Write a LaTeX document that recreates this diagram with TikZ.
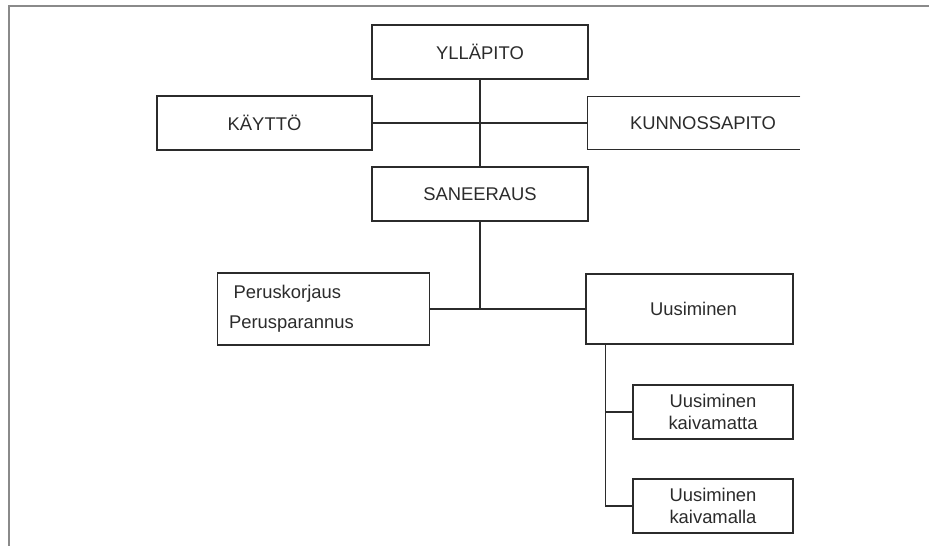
\documentclass[tikz,border=0pt]{standalone}
\usepackage{fontspec}
\setmainfont{Liberation Sans}
\definecolor{ink}{HTML}{2B2B2B}
\definecolor{frame}{HTML}{8A8A8A}
\begin{document}
\begin{tikzpicture}[x=0.75pt,y=-0.75pt,
  box/.style={draw=ink, line width=1.1pt, rectangle, inner sep=0pt, text=ink,
    font=\fontsize{13.8}{17}\selectfont, align=center},
  openbox/.style={rectangle, inner sep=0pt, text=ink,
    font=\fontsize{13.8}{17}\selectfont, align=center},
  conn/.style={draw=ink, line width=1pt},
  framel/.style={draw=frame, line width=1.6pt}]
\useasboundingbox (0,0) rectangle (929,546);
\draw[framel] (929,6) -- (9,6) -- (9,546);

\node[box, minimum width=162pt, minimum height=40.5pt] (yll) at (480,52) {YLLÄPITO};
\node[box, minimum width=161.25pt, minimum height=40.5pt] (kay) at (264.5,123) {KÄYTTÖ};
\node[openbox, minimum width=159pt, minimum height=39pt] (kun) at (694,123) {\hspace*{13.5pt}KUNNOSSAPITO};
\draw[draw=ink, line width=1.1pt] (kun.north east) -- (kun.north west) -- (kun.south west) -- (kun.south east);
\node[box, minimum width=162pt, minimum height=40.5pt] (san) at (480,194) {SANEERAUS};
\node[box, minimum height=54pt, text width=141.75pt, inner xsep=8.5pt, align=left,
  font=\fontsize{13.8}{22.5}\selectfont] (per) at (323.5,309) {\hspace*{3.5pt}Peruskorjaus\\Perusparannus};
\node[box, minimum width=155.25pt, minimum height=52.5pt] (uus) at (689.5,309) {\hspace*{6pt}Uusiminen};
\node[box, minimum width=120pt, minimum height=40.5pt] (km1) at (713,412) {Uusiminen\\kaivamatta};
\node[box, minimum width=120pt, minimum height=40.5pt] (km2) at (713,506) {Uusiminen\\kaivamalla};

\draw[conn] (yll.south) -- (san.north);
\draw[conn] (kay.east) -- (kun.west);
\draw[conn] (san.south) -- (san.south |- per.east);
\draw[conn] (per.east) -- (uus.west);
\draw[conn] ([xshift=15pt]uus.south west) |- (km2.west);
\draw[conn] ([xshift=15pt]uus.south west |- km1.west) -- (km1.west);
\end{tikzpicture}
\end{document}
